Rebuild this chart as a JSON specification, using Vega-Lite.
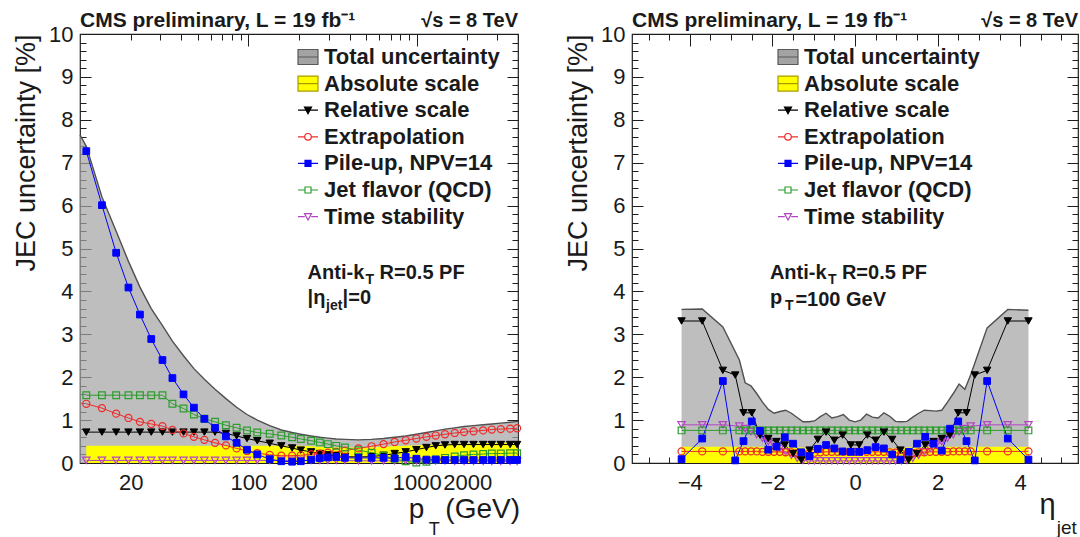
{
  "$schema": "https://vega.github.io/schema/vega-lite/v6.json",
  "background": "white",
  "padding": {"left": 11, "top": 9, "right": 2, "bottom": 0},
  "bounds": "flush",
  "spacing": 114,
  "config": {
    "font": "Liberation Sans",
    "view": {"stroke": "#1e1e1e", "strokeWidth": 1.2},
    "axis": {"grid": false, "domain": false, "labelFont": "Liberation Sans", "labelFontSize": 22, "labelColor": "#1a1a1a", "tickColor": "#1e1e1e", "tickWidth": 1, "titleFont": "Liberation Sans", "titleFontWeight": "normal", "titleColor": "#1a1a1a", "titleFontSize": 27},
    "legend": {"labelFont": "Liberation Sans", "labelFontSize": 22, "labelFontWeight": "bold", "labelColor": "#1a1a1a", "rowPadding": 4.6, "labelOffset": 5, "symbolOpacity": 1, "symbolStrokeWidth": 1.2, "symbolSize": 400, "labelLimit": 400, "padding": 0},
    "text": {"font": "Liberation Sans", "color": "#1a1a1a"}
  },
  "datasets": {
    "lt": [
      {"pt": 10, "tot": 7.65}, {"pt": 10.9, "tot": 7.38}, {"pt": 13.5, "tot": 6.2}, {"pt": 16.4, "tot": 5.4},
      {"pt": 19.4, "tot": 4.7}, {"pt": 22.7, "tot": 4.1}, {"pt": 26.5, "tot": 3.6}, {"pt": 30.9, "tot": 3.2},
      {"pt": 35.4, "tot": 2.84}, {"pt": 41.2, "tot": 2.5}, {"pt": 47.5, "tot": 2.2}, {"pt": 54.8, "tot": 1.95},
      {"pt": 63.4, "tot": 1.72}, {"pt": 73.6, "tot": 1.5}, {"pt": 85.2, "tot": 1.3}, {"pt": 98.2, "tot": 1.13},
      {"pt": 113, "tot": 1.0}, {"pt": 134, "tot": 0.87}, {"pt": 157, "tot": 0.77}, {"pt": 182, "tot": 0.71},
      {"pt": 205, "tot": 0.67}, {"pt": 236, "tot": 0.63}, {"pt": 266, "tot": 0.6}, {"pt": 297, "tot": 0.58},
      {"pt": 333, "tot": 0.56}, {"pt": 375, "tot": 0.55}, {"pt": 451, "tot": 0.54}, {"pt": 540, "tot": 0.55},
      {"pt": 636, "tot": 0.57}, {"pt": 740, "tot": 0.6}, {"pt": 861, "tot": 0.63}, {"pt": 996, "tot": 0.67},
      {"pt": 1143, "tot": 0.71}, {"pt": 1298, "tot": 0.75}, {"pt": 1474, "tot": 0.79}, {"pt": 1683, "tot": 0.82},
      {"pt": 1913, "tot": 0.85}, {"pt": 2176, "tot": 0.87}, {"pt": 2483, "tot": 0.89}, {"pt": 2795, "tot": 0.91},
      {"pt": 3162, "tot": 0.93}, {"pt": 3592, "tot": 0.95}, {"pt": 4000, "tot": 0.97}
    ],
    "lc": [
      {"pt": 10.9, "abs": 0.40, "Relative scale": 0.72, "Extrapolation": 1.38, "Pile-up, NPV=14": 7.27, "Jet flavor (QCD)": 1.58, "Time stability": 0.06},
      {"pt": 13.5, "abs": 0.40, "Relative scale": 0.72, "Extrapolation": 1.28, "Pile-up, NPV=14": 6.01, "Jet flavor (QCD)": 1.58, "Time stability": 0.06},
      {"pt": 16.4, "abs": 0.40, "Relative scale": 0.72, "Extrapolation": 1.15, "Pile-up, NPV=14": 4.90, "Jet flavor (QCD)": 1.58, "Time stability": 0.06},
      {"pt": 19.4, "abs": 0.40, "Relative scale": 0.72, "Extrapolation": 1.05, "Pile-up, NPV=14": 4.09, "Jet flavor (QCD)": 1.58, "Time stability": 0.06},
      {"pt": 22.7, "abs": 0.40, "Relative scale": 0.72, "Extrapolation": 0.96, "Pile-up, NPV=14": 3.46, "Jet flavor (QCD)": 1.58, "Time stability": 0.06},
      {"pt": 26.5, "abs": 0.40, "Relative scale": 0.72, "Extrapolation": 0.91, "Pile-up, NPV=14": 2.89, "Jet flavor (QCD)": 1.58, "Time stability": 0.06},
      {"pt": 30.9, "abs": 0.40, "Relative scale": 0.72, "Extrapolation": 0.86, "Pile-up, NPV=14": 2.40, "Jet flavor (QCD)": 1.58, "Time stability": 0.06},
      {"pt": 35.4, "abs": 0.40, "Relative scale": 0.72, "Extrapolation": 0.77, "Pile-up, NPV=14": 1.98, "Jet flavor (QCD)": 1.38, "Time stability": 0.06},
      {"pt": 41.2, "abs": 0.40, "Relative scale": 0.72, "Extrapolation": 0.69, "Pile-up, NPV=14": 1.60, "Jet flavor (QCD)": 1.27, "Time stability": 0.06},
      {"pt": 47.5, "abs": 0.40, "Relative scale": 0.72, "Extrapolation": 0.61, "Pile-up, NPV=14": 1.29, "Jet flavor (QCD)": 1.13, "Time stability": 0.06},
      {"pt": 54.8, "abs": 0.40, "Relative scale": 0.72, "Extrapolation": 0.54, "Pile-up, NPV=14": 1.03, "Jet flavor (QCD)": 1.03, "Time stability": 0.06},
      {"pt": 63.4, "abs": 0.40, "Relative scale": 0.72, "Extrapolation": 0.47, "Pile-up, NPV=14": 0.82, "Jet flavor (QCD)": 0.96, "Time stability": 0.06},
      {"pt": 73.6, "abs": 0.40, "Relative scale": 0.69, "Extrapolation": 0.41, "Pile-up, NPV=14": 0.62, "Jet flavor (QCD)": 0.88, "Time stability": 0.06},
      {"pt": 85.2, "abs": 0.40, "Relative scale": 0.63, "Extrapolation": 0.34, "Pile-up, NPV=14": 0.47, "Jet flavor (QCD)": 0.82, "Time stability": 0.06},
      {"pt": 98.2, "abs": 0.40, "Relative scale": 0.57, "Extrapolation": 0.28, "Pile-up, NPV=14": 0.31, "Jet flavor (QCD)": 0.76, "Time stability": 0.06},
      {"pt": 113, "abs": 0.40, "Relative scale": 0.52, "Extrapolation": 0.23, "Pile-up, NPV=14": 0.20, "Jet flavor (QCD)": 0.71, "Time stability": 0.06},
      {"pt": 134, "abs": 0.40, "Relative scale": 0.46, "Extrapolation": 0.19, "Pile-up, NPV=14": 0.09, "Jet flavor (QCD)": 0.68, "Time stability": 0.06},
      {"pt": 157, "abs": 0.40, "Relative scale": 0.40, "Extrapolation": 0.17, "Pile-up, NPV=14": 0.04, "Jet flavor (QCD)": 0.64, "Time stability": 0.06},
      {"pt": 182, "abs": 0.40, "Relative scale": 0.35, "Extrapolation": 0.17, "Pile-up, NPV=14": 0.03, "Jet flavor (QCD)": 0.60, "Time stability": 0.06},
      {"pt": 205, "abs": 0.40, "Relative scale": 0.30, "Extrapolation": 0.18, "Pile-up, NPV=14": 0.04, "Jet flavor (QCD)": 0.56, "Time stability": 0.06},
      {"pt": 236, "abs": 0.39, "Relative scale": 0.26, "Extrapolation": 0.20, "Pile-up, NPV=14": 0.08, "Jet flavor (QCD)": 0.52, "Time stability": 0.06},
      {"pt": 266, "abs": 0.38, "Relative scale": 0.22, "Extrapolation": 0.22, "Pile-up, NPV=14": 0.11, "Jet flavor (QCD)": 0.48, "Time stability": 0.06},
      {"pt": 297, "abs": 0.37, "Relative scale": 0.19, "Extrapolation": 0.24, "Pile-up, NPV=14": 0.13, "Jet flavor (QCD)": 0.44, "Time stability": 0.06},
      {"pt": 333, "abs": 0.36, "Relative scale": 0.17, "Extrapolation": 0.26, "Pile-up, NPV=14": 0.14, "Jet flavor (QCD)": 0.40, "Time stability": 0.06},
      {"pt": 375, "abs": 0.36, "Relative scale": 0.15, "Extrapolation": 0.29, "Pile-up, NPV=14": 0.12, "Jet flavor (QCD)": 0.36, "Time stability": 0.06},
      {"pt": 451, "abs": 0.36, "Relative scale": 0.14, "Extrapolation": 0.34, "Pile-up, NPV=14": 0.12, "Jet flavor (QCD)": 0.30, "Time stability": 0.05},
      {"pt": 540, "abs": 0.37, "Relative scale": 0.15, "Extrapolation": 0.39, "Pile-up, NPV=14": 0.12, "Jet flavor (QCD)": 0.24, "Time stability": 0.05},
      {"pt": 636, "abs": 0.38, "Relative scale": 0.18, "Extrapolation": 0.44, "Pile-up, NPV=14": 0.12, "Jet flavor (QCD)": 0.17, "Time stability": 0.05},
      {"pt": 740, "abs": 0.39, "Relative scale": 0.22, "Extrapolation": 0.49, "Pile-up, NPV=14": 0.11, "Jet flavor (QCD)": 0.10, "Time stability": 0.05},
      {"pt": 861, "abs": 0.40, "Relative scale": 0.26, "Extrapolation": 0.53, "Pile-up, NPV=14": 0.14, "Jet flavor (QCD)": 0.04, "Time stability": 0.05},
      {"pt": 996, "abs": 0.41, "Relative scale": 0.31, "Extrapolation": 0.57, "Pile-up, NPV=14": 0.10, "Jet flavor (QCD)": 0.01, "Time stability": 0.05},
      {"pt": 1143, "abs": 0.42, "Relative scale": 0.36, "Extrapolation": 0.61, "Pile-up, NPV=14": 0.08, "Jet flavor (QCD)": 0.03, "Time stability": 0.05},
      {"pt": 1298, "abs": 0.43, "Relative scale": 0.40, "Extrapolation": 0.64, "Pile-up, NPV=14": 0.08, "Jet flavor (QCD)": 0.08, "Time stability": 0.05},
      {"pt": 1474, "abs": 0.44, "Relative scale": 0.42, "Extrapolation": 0.67, "Pile-up, NPV=14": 0.07, "Jet flavor (QCD)": 0.12, "Time stability": 0.05},
      {"pt": 1683, "abs": 0.45, "Relative scale": 0.43, "Extrapolation": 0.70, "Pile-up, NPV=14": 0.07, "Jet flavor (QCD)": 0.15, "Time stability": 0.04},
      {"pt": 1913, "abs": 0.45, "Relative scale": 0.43, "Extrapolation": 0.72, "Pile-up, NPV=14": 0.07, "Jet flavor (QCD)": 0.18, "Time stability": 0.04},
      {"pt": 2176, "abs": 0.46, "Relative scale": 0.43, "Extrapolation": 0.74, "Pile-up, NPV=14": 0.07, "Jet flavor (QCD)": 0.20, "Time stability": 0.04},
      {"pt": 2483, "abs": 0.46, "Relative scale": 0.43, "Extrapolation": 0.76, "Pile-up, NPV=14": 0.07, "Jet flavor (QCD)": 0.21, "Time stability": 0.04},
      {"pt": 2795, "abs": 0.47, "Relative scale": 0.43, "Extrapolation": 0.78, "Pile-up, NPV=14": 0.07, "Jet flavor (QCD)": 0.22, "Time stability": 0.04},
      {"pt": 3162, "abs": 0.47, "Relative scale": 0.43, "Extrapolation": 0.79, "Pile-up, NPV=14": 0.07, "Jet flavor (QCD)": 0.22, "Time stability": 0.04},
      {"pt": 3592, "abs": 0.48, "Relative scale": 0.43, "Extrapolation": 0.80, "Pile-up, NPV=14": 0.07, "Jet flavor (QCD)": 0.23, "Time stability": 0.04},
      {"pt": 3950, "abs": 0.48, "Relative scale": 0.43, "Extrapolation": 0.81, "Pile-up, NPV=14": 0.07, "Jet flavor (QCD)": 0.23, "Time stability": 0.04}
    ],
    "rd": [
      {"eta": -4.2, "tot": 3.58, "abs": 0.38, "Extrapolation": 0.27, "Jet flavor (QCD)": 0.76, "Time stability": 0.89},
      {"eta": -3.7, "tot": 3.59, "abs": 0.38, "Extrapolation": 0.27, "Jet flavor (QCD)": 0.76, "Time stability": 0.89},
      {"eta": -3.2, "tot": 3.17, "abs": 0.38, "Extrapolation": 0.27, "Jet flavor (QCD)": 0.76, "Time stability": 0.89},
      {"eta": -2.8, "tot": 2.40, "abs": 0.38, "Extrapolation": 0.27, "Jet flavor (QCD)": 0.76, "Time stability": 0.86},
      {"eta": -2.66, "tot": 1.87, "abs": 0.38, "Extrapolation": 0.27, "Jet flavor (QCD)": 0.76, "Time stability": 0.80},
      {"eta": -2.52, "tot": 1.80, "abs": 0.38, "Extrapolation": 0.27, "Jet flavor (QCD)": 0.76, "Time stability": 0.73},
      {"eta": -2.38, "tot": 1.62, "abs": 0.38, "Extrapolation": 0.27, "Jet flavor (QCD)": 0.76, "Time stability": 0.66},
      {"eta": -2.24, "tot": 1.42, "abs": 0.38, "Extrapolation": 0.26, "Jet flavor (QCD)": 0.76, "Time stability": 0.58},
      {"eta": -2.1, "tot": 1.25, "abs": 0.38, "Extrapolation": 0.26, "Jet flavor (QCD)": 0.76, "Time stability": 0.50},
      {"eta": -1.96, "tot": 1.16, "abs": 0.38, "Extrapolation": 0.26, "Jet flavor (QCD)": 0.76, "Time stability": 0.42},
      {"eta": -1.82, "tot": 1.20, "abs": 0.38, "Extrapolation": 0.26, "Jet flavor (QCD)": 0.76, "Time stability": 0.34},
      {"eta": -1.68, "tot": 1.23, "abs": 0.38, "Extrapolation": 0.25, "Jet flavor (QCD)": 0.76, "Time stability": 0.26},
      {"eta": -1.54, "tot": 1.16, "abs": 0.38, "Extrapolation": 0.25, "Jet flavor (QCD)": 0.76, "Time stability": 0.18},
      {"eta": -1.4, "tot": 1.06, "abs": 0.37, "Extrapolation": 0.23, "Jet flavor (QCD)": 0.76, "Time stability": 0.11},
      {"eta": -1.26, "tot": 0.96, "abs": 0.36, "Extrapolation": 0.21, "Jet flavor (QCD)": 0.76, "Time stability": 0.06},
      {"eta": -1.12, "tot": 0.96, "abs": 0.35, "Extrapolation": 0.22, "Jet flavor (QCD)": 0.76, "Time stability": 0.05},
      {"eta": -0.98, "tot": 0.98, "abs": 0.34, "Extrapolation": 0.24, "Jet flavor (QCD)": 0.76, "Time stability": 0.05},
      {"eta": -0.84, "tot": 1.08, "abs": 0.34, "Extrapolation": 0.25, "Jet flavor (QCD)": 0.76, "Time stability": 0.05},
      {"eta": -0.7, "tot": 1.16, "abs": 0.34, "Extrapolation": 0.26, "Jet flavor (QCD)": 0.76, "Time stability": 0.05},
      {"eta": -0.56, "tot": 1.05, "abs": 0.34, "Extrapolation": 0.26, "Jet flavor (QCD)": 0.76, "Time stability": 0.05},
      {"eta": -0.42, "tot": 1.08, "abs": 0.34, "Extrapolation": 0.26, "Jet flavor (QCD)": 0.76, "Time stability": 0.05},
      {"eta": -0.28, "tot": 1.13, "abs": 0.34, "Extrapolation": 0.26, "Jet flavor (QCD)": 0.76, "Time stability": 0.05},
      {"eta": -0.14, "tot": 1.00, "abs": 0.34, "Extrapolation": 0.26, "Jet flavor (QCD)": 0.76, "Time stability": 0.05},
      {"eta": 0, "tot": 0.96, "abs": 0.34, "Extrapolation": 0.26, "Jet flavor (QCD)": 0.76, "Time stability": 0.05},
      {"eta": 0.14, "tot": 1.00, "abs": 0.34, "Extrapolation": 0.26, "Jet flavor (QCD)": 0.76, "Time stability": 0.05},
      {"eta": 0.28, "tot": 1.14, "abs": 0.34, "Extrapolation": 0.26, "Jet flavor (QCD)": 0.76, "Time stability": 0.05},
      {"eta": 0.42, "tot": 1.07, "abs": 0.34, "Extrapolation": 0.26, "Jet flavor (QCD)": 0.76, "Time stability": 0.05},
      {"eta": 0.56, "tot": 1.05, "abs": 0.34, "Extrapolation": 0.26, "Jet flavor (QCD)": 0.76, "Time stability": 0.05},
      {"eta": 0.7, "tot": 1.17, "abs": 0.34, "Extrapolation": 0.26, "Jet flavor (QCD)": 0.76, "Time stability": 0.05},
      {"eta": 0.84, "tot": 1.09, "abs": 0.34, "Extrapolation": 0.25, "Jet flavor (QCD)": 0.76, "Time stability": 0.05},
      {"eta": 0.98, "tot": 0.97, "abs": 0.34, "Extrapolation": 0.24, "Jet flavor (QCD)": 0.76, "Time stability": 0.05},
      {"eta": 1.12, "tot": 0.96, "abs": 0.35, "Extrapolation": 0.22, "Jet flavor (QCD)": 0.76, "Time stability": 0.05},
      {"eta": 1.26, "tot": 0.97, "abs": 0.36, "Extrapolation": 0.21, "Jet flavor (QCD)": 0.76, "Time stability": 0.06},
      {"eta": 1.4, "tot": 1.07, "abs": 0.37, "Extrapolation": 0.23, "Jet flavor (QCD)": 0.76, "Time stability": 0.11},
      {"eta": 1.54, "tot": 1.16, "abs": 0.38, "Extrapolation": 0.25, "Jet flavor (QCD)": 0.76, "Time stability": 0.18},
      {"eta": 1.68, "tot": 1.23, "abs": 0.38, "Extrapolation": 0.25, "Jet flavor (QCD)": 0.76, "Time stability": 0.26},
      {"eta": 1.82, "tot": 1.22, "abs": 0.38, "Extrapolation": 0.26, "Jet flavor (QCD)": 0.76, "Time stability": 0.34},
      {"eta": 1.96, "tot": 1.21, "abs": 0.38, "Extrapolation": 0.26, "Jet flavor (QCD)": 0.76, "Time stability": 0.42},
      {"eta": 2.1, "tot": 1.23, "abs": 0.38, "Extrapolation": 0.26, "Jet flavor (QCD)": 0.76, "Time stability": 0.50},
      {"eta": 2.24, "tot": 1.42, "abs": 0.38, "Extrapolation": 0.26, "Jet flavor (QCD)": 0.76, "Time stability": 0.58},
      {"eta": 2.38, "tot": 1.62, "abs": 0.38, "Extrapolation": 0.27, "Jet flavor (QCD)": 0.76, "Time stability": 0.66},
      {"eta": 2.52, "tot": 1.84, "abs": 0.38, "Extrapolation": 0.27, "Jet flavor (QCD)": 0.76, "Time stability": 0.73},
      {"eta": 2.66, "tot": 1.72, "abs": 0.38, "Extrapolation": 0.27, "Jet flavor (QCD)": 0.76, "Time stability": 0.80},
      {"eta": 2.8, "tot": 2.05, "abs": 0.38, "Extrapolation": 0.27, "Jet flavor (QCD)": 0.76, "Time stability": 0.86},
      {"eta": 3.2, "tot": 3.15, "abs": 0.38, "Extrapolation": 0.27, "Jet flavor (QCD)": 0.76, "Time stability": 0.89},
      {"eta": 3.7, "tot": 3.58, "abs": 0.38, "Extrapolation": 0.27, "Jet flavor (QCD)": 0.76, "Time stability": 0.89},
      {"eta": 4.2, "tot": 3.56, "abs": 0.38, "Extrapolation": 0.27, "Jet flavor (QCD)": 0.76, "Time stability": 0.89}
    ],
    "rs": [
      {"eta": -4.2, "Relative scale": 3.31, "Pile-up, NPV=14": 0.09},
      {"eta": -3.7, "Relative scale": 3.31, "Pile-up, NPV=14": 0.57},
      {"eta": -3.2, "Relative scale": 2.16, "Pile-up, NPV=14": 1.91},
      {"eta": -2.9, "Relative scale": 2.05, "Pile-up, NPV=14": 0.06},
      {"eta": -2.7, "Relative scale": 1.17, "Pile-up, NPV=14": 0.51},
      {"eta": -2.5, "Relative scale": 1.17, "Pile-up, NPV=14": 0.97},
      {"eta": -2.3, "Relative scale": 0.65, "Pile-up, NPV=14": 0.75},
      {"eta": -2.1, "Relative scale": 0.57, "Pile-up, NPV=14": 0.31},
      {"eta": -1.9, "Relative scale": 0.50, "Pile-up, NPV=14": 0.38},
      {"eta": -1.7, "Relative scale": 0.42, "Pile-up, NPV=14": 0.60},
      {"eta": -1.5, "Relative scale": 0.22, "Pile-up, NPV=14": 0.45},
      {"eta": -1.3, "Relative scale": 0.07, "Pile-up, NPV=14": 0.25},
      {"eta": -1.1, "Relative scale": 0.30, "Pile-up, NPV=14": 0.16},
      {"eta": -0.9, "Relative scale": 0.55, "Pile-up, NPV=14": 0.33},
      {"eta": -0.7, "Relative scale": 0.72, "Pile-up, NPV=14": 0.42},
      {"eta": -0.5, "Relative scale": 0.53, "Pile-up, NPV=14": 0.34},
      {"eta": -0.3, "Relative scale": 0.65, "Pile-up, NPV=14": 0.27},
      {"eta": -0.1, "Relative scale": 0.42, "Pile-up, NPV=14": 0.26},
      {"eta": 0.1, "Relative scale": 0.42, "Pile-up, NPV=14": 0.26},
      {"eta": 0.3, "Relative scale": 0.65, "Pile-up, NPV=14": 0.30},
      {"eta": 0.5, "Relative scale": 0.53, "Pile-up, NPV=14": 0.37},
      {"eta": 0.7, "Relative scale": 0.72, "Pile-up, NPV=14": 0.34},
      {"eta": 0.9, "Relative scale": 0.55, "Pile-up, NPV=14": 0.20},
      {"eta": 1.1, "Relative scale": 0.30, "Pile-up, NPV=14": 0.08},
      {"eta": 1.3, "Relative scale": 0.07, "Pile-up, NPV=14": 0.26},
      {"eta": 1.5, "Relative scale": 0.22, "Pile-up, NPV=14": 0.45},
      {"eta": 1.7, "Relative scale": 0.42, "Pile-up, NPV=14": 0.61},
      {"eta": 1.9, "Relative scale": 0.50, "Pile-up, NPV=14": 0.45},
      {"eta": 2.1, "Relative scale": 0.57, "Pile-up, NPV=14": 0.29},
      {"eta": 2.3, "Relative scale": 0.65, "Pile-up, NPV=14": 0.80},
      {"eta": 2.5, "Relative scale": 1.17, "Pile-up, NPV=14": 0.97},
      {"eta": 2.7, "Relative scale": 1.17, "Pile-up, NPV=14": 0.51},
      {"eta": 2.9, "Relative scale": 2.05, "Pile-up, NPV=14": 0.06},
      {"eta": 3.2, "Relative scale": 2.16, "Pile-up, NPV=14": 1.91},
      {"eta": 3.7, "Relative scale": 3.31, "Pile-up, NPV=14": 0.57},
      {"eta": 4.2, "Relative scale": 3.31, "Pile-up, NPV=14": 0.08}
    ]
  },
  "resolve": {
    "scale": {"stroke": "independent", "fill": "independent", "shape": "independent"},
    "legend": {"stroke": "independent", "fill": "independent", "shape": "independent"}
  },
  "hconcat": [
    {
      "width": 438,
      "height": 429,
      "resolve": {"axis": {"x": "independent", "y": "independent"}},
      "layer": [
        {
          "data": {"name": "lt"},
          "mark": {"type": "area", "color": "#a3a3a3", "line": {"color": "#505050", "strokeWidth": 1.4}},
          "encoding": {
            "x": {"field": "pt", "type": "quantitative", "scale": {"type": "log", "domain": [10, 4000], "nice": false},
                  "axis": {"orient": "bottom", "values": [20, 100, 200, 1000, 2000], "format": "d", "ticks": false, "labelPadding": 9, "labelOverlap": false, "labelFlush": false, "title": null}},
            "y": {"field": "tot", "type": "quantitative", "scale": {"domain": [0, 10], "nice": false},
                  "axis": {"orient": "left", "values": [0, 1, 2, 3, 4, 5, 6, 7, 8, 9, 10], "ticks": false, "labelPadding": 7, "labelOverlap": false, "labelFlush": false, "title": "JEC uncertainty [%]", "titleAnchor": "end", "titlePadding": 8}}
          }
        },
        {
          "data": {"name": "lc"},
          "mark": {"type": "area", "color": "#ffff00"},
          "encoding": {
            "x": {"field": "pt", "type": "quantitative", "scale": {"type": "log", "domain": [10, 4000], "nice": false},
                  "axis": {"orient": "bottom", "values": [100, 1000], "tickSize": -12, "labels": false, "title": null}},
            "y": {"field": "abs", "type": "quantitative", "scale": {"domain": [0, 10], "nice": false},
                  "axis": {"orient": "left", "values": [0, 1, 2, 3, 4, 5, 6, 7, 8, 9, 10], "tickSize": -11, "labels": false, "title": null}}
          }
        },
        {
          "data": {"name": "lc"},
          "mark": {"type": "line", "strokeWidth": 1, "color": "#b444c4"},
          "encoding": {
            "x": {"field": "pt", "type": "quantitative", "scale": {"type": "log", "domain": [10, 4000], "nice": false},
                  "axis": {"orient": "bottom", "values": [20, 30, 40, 50, 60, 70, 80, 90, 200, 300, 400, 500, 600, 700, 800, 900, 2000, 3000, 4000], "tickSize": -6, "labels": false, "title": null}},
            "y": {"field": "Time stability", "type": "quantitative", "scale": {"domain": [0, 10], "nice": false},
                  "axis": {"orient": "left", "values": [0, 0.2, 0.4, 0.6, 0.8, 1, 1.2, 1.4, 1.6, 1.8, 2, 2.2, 2.4, 2.6, 2.8, 3, 3.2, 3.4, 3.6, 3.8, 4, 4.2, 4.4, 4.6, 4.8, 5, 5.2, 5.4, 5.6, 5.8, 6, 6.2, 6.4, 6.6, 6.8, 7, 7.2, 7.4, 7.6, 7.8, 8, 8.2, 8.4, 8.6, 8.8, 9, 9.2, 9.4, 9.6, 9.8, 10], "tickSize": -6, "labels": false, "title": null}}
          }
        },
        {
          "data": {"name": "lc"},
          "mark": {"type": "line", "strokeWidth": 1, "color": "#000000"},
          "encoding": {
            "x": {"field": "pt", "type": "quantitative", "scale": {"type": "log", "domain": [10, 4000], "nice": false},
                  "axis": {"orient": "top", "values": [100, 1000], "tickSize": -12, "labels": false, "title": null}},
            "y": {"field": "Relative scale", "type": "quantitative", "scale": {"domain": [0, 10], "nice": false},
                  "axis": {"orient": "right", "values": [0, 1, 2, 3, 4, 5, 6, 7, 8, 9, 10], "tickSize": -11, "labels": false, "title": null}}
          }
        },
        {
          "data": {"name": "lc"},
          "mark": {"type": "line", "strokeWidth": 1, "color": "#f02a2a"},
          "encoding": {
            "x": {"field": "pt", "type": "quantitative", "scale": {"type": "log", "domain": [10, 4000], "nice": false},
                  "axis": {"orient": "top", "values": [20, 30, 40, 50, 60, 70, 80, 90, 200, 300, 400, 500, 600, 700, 800, 900, 2000, 3000, 4000], "tickSize": -6, "labels": false, "title": null}},
            "y": {"field": "Extrapolation", "type": "quantitative", "scale": {"domain": [0, 10], "nice": false},
                  "axis": {"orient": "right", "values": [0, 0.2, 0.4, 0.6, 0.8, 1, 1.2, 1.4, 1.6, 1.8, 2, 2.2, 2.4, 2.6, 2.8, 3, 3.2, 3.4, 3.6, 3.8, 4, 4.2, 4.4, 4.6, 4.8, 5, 5.2, 5.4, 5.6, 5.8, 6, 6.2, 6.4, 6.6, 6.8, 7, 7.2, 7.4, 7.6, 7.8, 8, 8.2, 8.4, 8.6, 8.8, 9, 9.2, 9.4, 9.6, 9.8, 10], "tickSize": -6, "labels": false, "title": null}}
          }
        },
        {
          "data": {"name": "lc"},
          "mark": {"type": "line", "strokeWidth": 1, "color": "#2c9e2c"},
          "encoding": {
            "x": {"field": "pt", "type": "quantitative", "scale": {"type": "log", "domain": [10, 4000], "nice": false}, "axis": null},
            "y": {"field": "Jet flavor (QCD)", "type": "quantitative", "scale": {"domain": [0, 10], "nice": false}, "axis": null}
          }
        },
        {
          "data": {"name": "lc"},
          "mark": {"type": "line", "strokeWidth": 1, "color": "#0000ff"},
          "encoding": {
            "x": {"field": "pt", "type": "quantitative", "scale": {"type": "log", "domain": [10, 4000], "nice": false}, "axis": null},
            "y": {"field": "Pile-up, NPV=14", "type": "quantitative", "scale": {"domain": [0, 10], "nice": false}, "axis": null}
          }
        },
        {
          "data": {"name": "lc"},
          "mark": {"type": "point", "shape": "triangle-down", "filled": false, "fill": "transparent", "stroke": "#b444c4", "size": 55, "opacity": 1, "strokeWidth": 1.2},
          "encoding": {
            "x": {"field": "pt", "type": "quantitative", "scale": {"type": "log", "domain": [10, 4000], "nice": false}, "axis": null},
            "y": {"field": "Time stability", "type": "quantitative", "scale": {"domain": [0, 10], "nice": false}, "axis": null}
          }
        },
        {
          "data": {"name": "lc"},
          "mark": {"type": "point", "shape": "triangle-down", "filled": true, "fill": "#000000", "stroke": "#000000", "size": 55, "opacity": 1, "strokeWidth": 1},
          "encoding": {
            "x": {"field": "pt", "type": "quantitative", "scale": {"type": "log", "domain": [10, 4000], "nice": false}, "axis": null},
            "y": {"field": "Relative scale", "type": "quantitative", "scale": {"domain": [0, 10], "nice": false}, "axis": null}
          }
        },
        {
          "data": {"name": "lc"},
          "mark": {"type": "point", "shape": "circle", "filled": false, "fill": "transparent", "stroke": "#f02a2a", "size": 50, "opacity": 1, "strokeWidth": 1.2},
          "encoding": {
            "x": {"field": "pt", "type": "quantitative", "scale": {"type": "log", "domain": [10, 4000], "nice": false}, "axis": null},
            "y": {"field": "Extrapolation", "type": "quantitative", "scale": {"domain": [0, 10], "nice": false}, "axis": null}
          }
        },
        {
          "data": {"name": "lc"},
          "mark": {"type": "point", "shape": "square", "filled": false, "fill": "transparent", "stroke": "#2c9e2c", "size": 45, "opacity": 1, "strokeWidth": 1.2},
          "encoding": {
            "x": {"field": "pt", "type": "quantitative", "scale": {"type": "log", "domain": [10, 4000], "nice": false}, "axis": null},
            "y": {"field": "Jet flavor (QCD)", "type": "quantitative", "scale": {"domain": [0, 10], "nice": false}, "axis": null}
          }
        },
        {
          "data": {"name": "lc"},
          "mark": {"type": "point", "shape": "square", "filled": true, "fill": "#0000ff", "stroke": "#0000ff", "size": 45, "opacity": 1, "strokeWidth": 1},
          "encoding": {
            "x": {"field": "pt", "type": "quantitative", "scale": {"type": "log", "domain": [10, 4000], "nice": false}, "axis": null},
            "y": {"field": "Pile-up, NPV=14", "type": "quantitative", "scale": {"domain": [0, 10], "nice": false}, "axis": null}
          }
        },
        {
          "data": {"values": []},
          "mark": {"type": "point", "filled": true, "opacity": 1, "strokeWidth": 1.2},
          "encoding": {
            "shape": {"field": "series", "type": "nominal",
                      "legend": {"title": null, "orient": "none", "legendX": 217, "legendY": 12},
                      "scale": {"domain": ["Total uncertainty", "Absolute scale", "Relative scale", "Extrapolation", "Pile-up, NPV=14", "Jet flavor (QCD)", "Time stability"],
                                "range": ["M-1,-0.75H1V0.75H-1ZM-1,0H1", "M-1,-0.75H1V0.75H-1ZM-1,0H1", "M-1,0H1M-0.35,-0.3H0.35L0,0.35Z", "M-1,0H-0.33M0.33,0H1M-0.33,0A0.33,0.33,0,1,0,0.33,0A0.33,0.33,0,1,0,-0.33,0Z", "M-1,0H1M-0.3,-0.3H0.3V0.3H-0.3Z", "M-1,0H-0.3M0.3,0H1M-0.3,-0.3H0.3V0.3H-0.3Z", "M-1,0H-0.32M0.32,0H1M-0.35,-0.3H0.35L0,0.35Z"]}},
            "fill": {"field": "series", "type": "nominal",
                     "legend": {"title": null, "orient": "none", "legendX": 217, "legendY": 12},
                     "scale": {"domain": ["Total uncertainty", "Absolute scale", "Relative scale", "Extrapolation", "Pile-up, NPV=14", "Jet flavor (QCD)", "Time stability"], "range": ["#a3a3a3", "#ffff00", "#000000", "transparent", "#0000ff", "transparent", "transparent"]}},
            "stroke": {"field": "series", "type": "nominal",
                       "legend": {"title": null, "orient": "none", "legendX": 217, "legendY": 12},
                       "scale": {"domain": ["Total uncertainty", "Absolute scale", "Relative scale", "Extrapolation", "Pile-up, NPV=14", "Jet flavor (QCD)", "Time stability"], "range": ["#5a5a5a", "#a89c00", "#000000", "#f02a2a", "#0000ff", "#2c9e2c", "#b444c4"]}}
          }
        },
        {
          "data": {"values": [{}]},
          "mark": {"type": "text", "text": "CMS preliminary, L = 19 fb⁻¹", "align": "left", "baseline": "alphabetic", "fontSize": 21, "fontWeight": "bold", "dy": -7},
          "encoding": {"x": {"datum": 10, "type": "quantitative", "axis": null}, "y": {"datum": 10, "type": "quantitative", "axis": null}}
        },
        {
          "data": {"values": [{}]},
          "mark": {"type": "text", "text": "√s = 8 TeV", "align": "right", "baseline": "alphabetic", "fontSize": 20, "fontWeight": "bold", "dy": -7},
          "encoding": {"x": {"datum": 4000, "type": "quantitative", "axis": null}, "y": {"datum": 10, "type": "quantitative", "axis": null}}
        },
        {
          "data": {"values": [{}]},
          "mark": {"type": "text", "text": "Anti-k", "align": "left", "baseline": "alphabetic", "fontSize": 20, "fontWeight": "bold"},
          "encoding": {"x": {"datum": 225, "type": "quantitative", "axis": null}, "y": {"datum": 4.29, "type": "quantitative", "axis": null}}
        },
        {
          "data": {"values": [{}]},
          "mark": {"type": "text", "text": "T", "align": "left", "baseline": "alphabetic", "fontSize": 14, "fontWeight": "bold", "dx": 58, "dy": 5},
          "encoding": {"x": {"datum": 225, "type": "quantitative", "axis": null}, "y": {"datum": 4.29, "type": "quantitative", "axis": null}}
        },
        {
          "data": {"values": [{}]},
          "mark": {"type": "text", "text": "R=0.5 PF", "align": "left", "baseline": "alphabetic", "fontSize": 20, "fontWeight": "bold", "dx": 72},
          "encoding": {"x": {"datum": 225, "type": "quantitative", "axis": null}, "y": {"datum": 4.29, "type": "quantitative", "axis": null}}
        },
        {
          "data": {"values": [{}]},
          "mark": {"type": "text", "text": "|η", "align": "left", "baseline": "alphabetic", "fontSize": 20, "fontWeight": "bold"},
          "encoding": {"x": {"datum": 225, "type": "quantitative", "axis": null}, "y": {"datum": 3.71, "type": "quantitative", "axis": null}}
        },
        {
          "data": {"values": [{}]},
          "mark": {"type": "text", "text": "jet", "align": "left", "baseline": "alphabetic", "fontSize": 14, "fontWeight": "bold", "dx": 18.5, "dy": 6},
          "encoding": {"x": {"datum": 225, "type": "quantitative", "axis": null}, "y": {"datum": 3.71, "type": "quantitative", "axis": null}}
        },
        {
          "data": {"values": [{}]},
          "mark": {"type": "text", "text": "|=0", "align": "left", "baseline": "alphabetic", "fontSize": 20, "fontWeight": "bold", "dx": 35},
          "encoding": {"x": {"datum": 225, "type": "quantitative", "axis": null}, "y": {"datum": 3.71, "type": "quantitative", "axis": null}}
        },
        {
          "data": {"values": [{}]},
          "mark": {"type": "text", "text": "p", "align": "left", "baseline": "alphabetic", "fontSize": 28},
          "encoding": {"x": {"datum": 896, "type": "quantitative", "axis": null}, "y": {"datum": -1.28, "type": "quantitative", "axis": null}}
        },
        {
          "data": {"values": [{}]},
          "mark": {"type": "text", "text": "T", "align": "left", "baseline": "alphabetic", "fontSize": 18},
          "encoding": {"x": {"datum": 1178, "type": "quantitative", "axis": null}, "y": {"datum": -1.67, "type": "quantitative", "axis": null}}
        },
        {
          "data": {"values": [{}]},
          "mark": {"type": "text", "text": "(GeV)", "align": "right", "baseline": "alphabetic", "fontSize": 28, "dx": 2},
          "encoding": {"x": {"datum": 4000, "type": "quantitative", "axis": null}, "y": {"datum": -1.28, "type": "quantitative", "axis": null}}
        }
      ]
    },
    {
      "width": 446,
      "height": 429,
      "resolve": {"axis": {"x": "independent", "y": "independent"}},
      "layer": [
        {
          "data": {"name": "rd"},
          "mark": {"type": "area", "color": "#a3a3a3", "line": {"color": "#505050", "strokeWidth": 1.4}},
          "encoding": {
            "x": {"field": "eta", "type": "quantitative", "scale": {"domain": [-5.4, 5.4], "nice": false, "zero": false},
                  "axis": {"orient": "bottom", "values": [-4, -2, 0, 2, 4], "ticks": false, "labelPadding": 9, "labelOverlap": false, "labelFlush": false, "title": null}},
            "y": {"field": "tot", "type": "quantitative", "scale": {"domain": [0, 10], "nice": false},
                  "axis": {"orient": "left", "values": [0, 1, 2, 3, 4, 5, 6, 7, 8, 9, 10], "ticks": false, "labelPadding": 7, "labelOverlap": false, "labelFlush": false, "title": "JEC uncertainty [%]", "titleAnchor": "end", "titlePadding": 8}}
          }
        },
        {
          "data": {"name": "rd"},
          "mark": {"type": "area", "color": "#ffff00"},
          "encoding": {
            "x": {"field": "eta", "type": "quantitative", "scale": {"domain": [-5.4, 5.4], "nice": false, "zero": false},
                  "axis": {"orient": "bottom", "values": [-4, -2, 0, 2, 4], "tickSize": -12, "labels": false, "title": null}},
            "y": {"field": "abs", "type": "quantitative", "scale": {"domain": [0, 10], "nice": false},
                  "axis": {"orient": "left", "values": [0, 1, 2, 3, 4, 5, 6, 7, 8, 9, 10], "tickSize": -11, "labels": false, "title": null}}
          }
        },
        {
          "data": {"name": "rd"},
          "mark": {"type": "line", "strokeWidth": 1, "color": "#b444c4"},
          "encoding": {
            "x": {"field": "eta", "type": "quantitative", "scale": {"domain": [-5.4, 5.4], "nice": false, "zero": false},
                  "axis": {"orient": "bottom", "values": [-5, -4.5, -4, -3.5, -3, -2.5, -2, -1.5, -1, -0.5, 0, 0.5, 1, 1.5, 2, 2.5, 3, 3.5, 4, 4.5, 5], "tickSize": -6, "labels": false, "title": null}},
            "y": {"field": "Time stability", "type": "quantitative", "scale": {"domain": [0, 10], "nice": false},
                  "axis": {"orient": "left", "values": [0, 0.2, 0.4, 0.6, 0.8, 1, 1.2, 1.4, 1.6, 1.8, 2, 2.2, 2.4, 2.6, 2.8, 3, 3.2, 3.4, 3.6, 3.8, 4, 4.2, 4.4, 4.6, 4.8, 5, 5.2, 5.4, 5.6, 5.8, 6, 6.2, 6.4, 6.6, 6.8, 7, 7.2, 7.4, 7.6, 7.8, 8, 8.2, 8.4, 8.6, 8.8, 9, 9.2, 9.4, 9.6, 9.8, 10], "tickSize": -6, "labels": false, "title": null}}
          }
        },
        {
          "data": {"name": "rd"},
          "mark": {"type": "line", "strokeWidth": 1, "color": "#f02a2a"},
          "encoding": {
            "x": {"field": "eta", "type": "quantitative", "scale": {"domain": [-5.4, 5.4], "nice": false, "zero": false},
                  "axis": {"orient": "top", "values": [-4, -2, 0, 2, 4], "tickSize": -12, "labels": false, "title": null}},
            "y": {"field": "Extrapolation", "type": "quantitative", "scale": {"domain": [0, 10], "nice": false},
                  "axis": {"orient": "right", "values": [0, 1, 2, 3, 4, 5, 6, 7, 8, 9, 10], "tickSize": -11, "labels": false, "title": null}}
          }
        },
        {
          "data": {"name": "rd"},
          "mark": {"type": "line", "strokeWidth": 1, "color": "#2c9e2c"},
          "encoding": {
            "x": {"field": "eta", "type": "quantitative", "scale": {"domain": [-5.4, 5.4], "nice": false, "zero": false},
                  "axis": {"orient": "top", "values": [-5, -4.5, -4, -3.5, -3, -2.5, -2, -1.5, -1, -0.5, 0, 0.5, 1, 1.5, 2, 2.5, 3, 3.5, 4, 4.5, 5], "tickSize": -6, "labels": false, "title": null}},
            "y": {"field": "Jet flavor (QCD)", "type": "quantitative", "scale": {"domain": [0, 10], "nice": false},
                  "axis": {"orient": "right", "values": [0, 0.2, 0.4, 0.6, 0.8, 1, 1.2, 1.4, 1.6, 1.8, 2, 2.2, 2.4, 2.6, 2.8, 3, 3.2, 3.4, 3.6, 3.8, 4, 4.2, 4.4, 4.6, 4.8, 5, 5.2, 5.4, 5.6, 5.8, 6, 6.2, 6.4, 6.6, 6.8, 7, 7.2, 7.4, 7.6, 7.8, 8, 8.2, 8.4, 8.6, 8.8, 9, 9.2, 9.4, 9.6, 9.8, 10], "tickSize": -6, "labels": false, "title": null}}
          }
        },
        {
          "data": {"name": "rs"},
          "mark": {"type": "line", "strokeWidth": 1, "color": "#000000"},
          "encoding": {
            "x": {"field": "eta", "type": "quantitative", "scale": {"domain": [-5.4, 5.4], "nice": false, "zero": false}, "axis": null},
            "y": {"field": "Relative scale", "type": "quantitative", "scale": {"domain": [0, 10], "nice": false}, "axis": null}
          }
        },
        {
          "data": {"name": "rs"},
          "mark": {"type": "line", "strokeWidth": 1, "color": "#0000ff"},
          "encoding": {
            "x": {"field": "eta", "type": "quantitative", "scale": {"domain": [-5.4, 5.4], "nice": false, "zero": false}, "axis": null},
            "y": {"field": "Pile-up, NPV=14", "type": "quantitative", "scale": {"domain": [0, 10], "nice": false}, "axis": null}
          }
        },
        {
          "data": {"name": "rd"},
          "mark": {"type": "point", "shape": "triangle-down", "filled": false, "fill": "transparent", "stroke": "#b444c4", "size": 55, "opacity": 1, "strokeWidth": 1.2},
          "encoding": {
            "x": {"field": "eta", "type": "quantitative", "scale": {"domain": [-5.4, 5.4], "nice": false, "zero": false}, "axis": null},
            "y": {"field": "Time stability", "type": "quantitative", "scale": {"domain": [0, 10], "nice": false}, "axis": null}
          }
        },
        {
          "data": {"name": "rd"},
          "mark": {"type": "point", "shape": "circle", "filled": false, "fill": "transparent", "stroke": "#f02a2a", "size": 50, "opacity": 1, "strokeWidth": 1.2},
          "encoding": {
            "x": {"field": "eta", "type": "quantitative", "scale": {"domain": [-5.4, 5.4], "nice": false, "zero": false}, "axis": null},
            "y": {"field": "Extrapolation", "type": "quantitative", "scale": {"domain": [0, 10], "nice": false}, "axis": null}
          }
        },
        {
          "data": {"name": "rd"},
          "mark": {"type": "point", "shape": "square", "filled": false, "fill": "transparent", "stroke": "#2c9e2c", "size": 45, "opacity": 1, "strokeWidth": 1.2},
          "encoding": {
            "x": {"field": "eta", "type": "quantitative", "scale": {"domain": [-5.4, 5.4], "nice": false, "zero": false}, "axis": null},
            "y": {"field": "Jet flavor (QCD)", "type": "quantitative", "scale": {"domain": [0, 10], "nice": false}, "axis": null}
          }
        },
        {
          "data": {"name": "rs"},
          "mark": {"type": "point", "shape": "triangle-down", "filled": true, "fill": "#000000", "stroke": "#000000", "size": 55, "opacity": 1, "strokeWidth": 1},
          "encoding": {
            "x": {"field": "eta", "type": "quantitative", "scale": {"domain": [-5.4, 5.4], "nice": false, "zero": false}, "axis": null},
            "y": {"field": "Relative scale", "type": "quantitative", "scale": {"domain": [0, 10], "nice": false}, "axis": null}
          }
        },
        {
          "data": {"name": "rs"},
          "mark": {"type": "point", "shape": "square", "filled": true, "fill": "#0000ff", "stroke": "#0000ff", "size": 45, "opacity": 1, "strokeWidth": 1},
          "encoding": {
            "x": {"field": "eta", "type": "quantitative", "scale": {"domain": [-5.4, 5.4], "nice": false, "zero": false}, "axis": null},
            "y": {"field": "Pile-up, NPV=14", "type": "quantitative", "scale": {"domain": [0, 10], "nice": false}, "axis": null}
          }
        },
        {
          "data": {"values": []},
          "mark": {"type": "point", "filled": true, "opacity": 1, "strokeWidth": 1.2},
          "encoding": {
            "shape": {"field": "series", "type": "nominal",
                      "legend": {"title": null, "orient": "none", "legendX": 145, "legendY": 12},
                      "scale": {"domain": ["Total uncertainty", "Absolute scale", "Relative scale", "Extrapolation", "Pile-up, NPV=14", "Jet flavor (QCD)", "Time stability"],
                                "range": ["M-1,-0.75H1V0.75H-1ZM-1,0H1", "M-1,-0.75H1V0.75H-1ZM-1,0H1", "M-1,0H1M-0.35,-0.3H0.35L0,0.35Z", "M-1,0H-0.33M0.33,0H1M-0.33,0A0.33,0.33,0,1,0,0.33,0A0.33,0.33,0,1,0,-0.33,0Z", "M-1,0H1M-0.3,-0.3H0.3V0.3H-0.3Z", "M-1,0H-0.3M0.3,0H1M-0.3,-0.3H0.3V0.3H-0.3Z", "M-1,0H-0.32M0.32,0H1M-0.35,-0.3H0.35L0,0.35Z"]}},
            "fill": {"field": "series", "type": "nominal",
                     "legend": {"title": null, "orient": "none", "legendX": 145, "legendY": 12},
                     "scale": {"domain": ["Total uncertainty", "Absolute scale", "Relative scale", "Extrapolation", "Pile-up, NPV=14", "Jet flavor (QCD)", "Time stability"], "range": ["#a3a3a3", "#ffff00", "#000000", "transparent", "#0000ff", "transparent", "transparent"]}},
            "stroke": {"field": "series", "type": "nominal",
                       "legend": {"title": null, "orient": "none", "legendX": 145, "legendY": 12},
                       "scale": {"domain": ["Total uncertainty", "Absolute scale", "Relative scale", "Extrapolation", "Pile-up, NPV=14", "Jet flavor (QCD)", "Time stability"], "range": ["#5a5a5a", "#a89c00", "#000000", "#f02a2a", "#0000ff", "#2c9e2c", "#b444c4"]}}
          }
        },
        {
          "data": {"values": [{}]},
          "mark": {"type": "text", "text": "CMS preliminary, L = 19 fb⁻¹", "align": "left", "baseline": "alphabetic", "fontSize": 21, "fontWeight": "bold", "dy": -7},
          "encoding": {"x": {"datum": -5.4, "type": "quantitative", "axis": null}, "y": {"datum": 10, "type": "quantitative", "axis": null}}
        },
        {
          "data": {"values": [{}]},
          "mark": {"type": "text", "text": "√s = 8 TeV", "align": "right", "baseline": "alphabetic", "fontSize": 20, "fontWeight": "bold", "dy": -7},
          "encoding": {"x": {"datum": 5.4, "type": "quantitative", "axis": null}, "y": {"datum": 10, "type": "quantitative", "axis": null}}
        },
        {
          "data": {"values": [{}]},
          "mark": {"type": "text", "text": "Anti-k", "align": "left", "baseline": "alphabetic", "fontSize": 20, "fontWeight": "bold"},
          "encoding": {"x": {"datum": -2.06, "type": "quantitative", "axis": null}, "y": {"datum": 4.29, "type": "quantitative", "axis": null}}
        },
        {
          "data": {"values": [{}]},
          "mark": {"type": "text", "text": "T", "align": "left", "baseline": "alphabetic", "fontSize": 14, "fontWeight": "bold", "dx": 58, "dy": 5},
          "encoding": {"x": {"datum": -2.06, "type": "quantitative", "axis": null}, "y": {"datum": 4.29, "type": "quantitative", "axis": null}}
        },
        {
          "data": {"values": [{}]},
          "mark": {"type": "text", "text": "R=0.5 PF", "align": "left", "baseline": "alphabetic", "fontSize": 20, "fontWeight": "bold", "dx": 72},
          "encoding": {"x": {"datum": -2.06, "type": "quantitative", "axis": null}, "y": {"datum": 4.29, "type": "quantitative", "axis": null}}
        },
        {
          "data": {"values": [{}]},
          "mark": {"type": "text", "text": "p", "align": "left", "baseline": "alphabetic", "fontSize": 20, "fontWeight": "bold"},
          "encoding": {"x": {"datum": -2.06, "type": "quantitative", "axis": null}, "y": {"datum": 3.71, "type": "quantitative", "axis": null}}
        },
        {
          "data": {"values": [{}]},
          "mark": {"type": "text", "text": "T", "align": "left", "baseline": "alphabetic", "fontSize": 14, "fontWeight": "bold", "dx": 15, "dy": 6},
          "encoding": {"x": {"datum": -2.06, "type": "quantitative", "axis": null}, "y": {"datum": 3.71, "type": "quantitative", "axis": null}}
        },
        {
          "data": {"values": [{}]},
          "mark": {"type": "text", "text": "=100 GeV", "align": "left", "baseline": "alphabetic", "fontSize": 20, "fontWeight": "bold", "dx": 25.5},
          "encoding": {"x": {"datum": -2.06, "type": "quantitative", "axis": null}, "y": {"datum": 3.67, "type": "quantitative", "axis": null}}
        },
        {
          "data": {"values": [{}]},
          "mark": {"type": "text", "text": "η", "align": "left", "baseline": "alphabetic", "fontSize": 29},
          "encoding": {"x": {"datum": 4.47, "type": "quantitative", "axis": null}, "y": {"datum": -1.19, "type": "quantitative", "axis": null}}
        },
        {
          "data": {"values": [{}]},
          "mark": {"type": "text", "text": "jet", "align": "left", "baseline": "alphabetic", "fontSize": 19},
          "encoding": {"x": {"datum": 4.885, "type": "quantitative", "axis": null}, "y": {"datum": -1.66, "type": "quantitative", "axis": null}}
        }
      ]
    }
  ]
}
